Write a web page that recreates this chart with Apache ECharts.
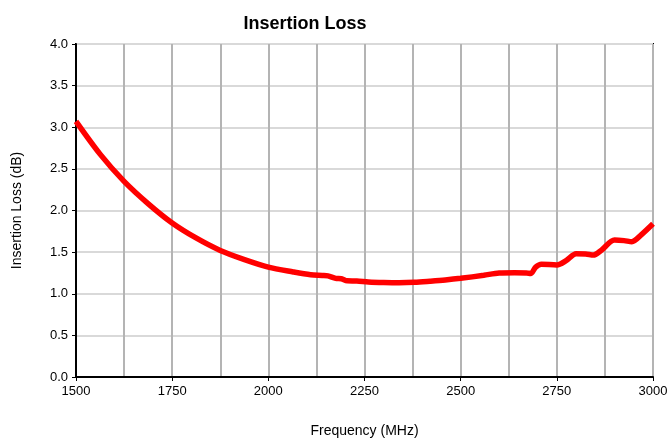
<!DOCTYPE html>
<html>
<head>
<meta charset="utf-8">
<script src="https://cdn.jsdelivr.net/npm/echarts@6/dist/echarts.min.js"></script>
<style>
html,body{margin:0;padding:0;background:#fff;}
#chart{width:671px;height:443px;}
</style>
</head>
<body>
<div id="chart"></div>
<script>
// frequency (MHz) and insertion loss (dB)
var freq = [1500,1562,1625,1688,1750,1812,1875,1938,2000,2065,2110,2140,2155,2175,2190,2205,2230,2260,2300,2340,2380,2420,2460,2500,2560,2600,2640,2672,2682,2695,2710,2750,2775,2800,2825,2845,2865,2900,2925,2945,2970,3000];
var loss = [3.07,2.68,2.35,2.08,1.85,1.67,1.52,1.41,1.32,1.262,1.228,1.22,1.215,1.185,1.18,1.155,1.153,1.142,1.135,1.132,1.137,1.15,1.165,1.185,1.222,1.25,1.253,1.25,1.242,1.32,1.355,1.345,1.4,1.48,1.478,1.465,1.52,1.645,1.638,1.625,1.71,1.84];
var xTicks = [1500,1750,2000,2250,2500,2750,3000];

var chart = echarts.init(document.getElementById('chart'));
var pts = [];
for (var i = 0; i < freq.length; i++) pts.push([freq[i], loss[i]]);

var font = '"Liberation Sans", Arial, sans-serif';
chart.setOption({
    animation: false,
    backgroundColor: '#fff',
    title: {
        text: 'Insertion Loss',
        left: 300, top: 10, textAlign: 'center',
        textStyle: {fontFamily: font, fontSize: 18, fontWeight: 'bold', color: '#000'}
    },
    grid: {left: 76, right: 18, top: 44, bottom: 66, show: true, borderColor: '#000', borderWidth: 2},
    xAxis: {
        type: 'value', min: 1500, max: 3000, interval: 250,
        name: 'Frequency (MHz)', nameLocation: 'middle', nameGap: 47,
        nameTextStyle: {fontFamily: font, fontSize: 14, color: '#000'},
        axisLine: {lineStyle: {color: '#000', width: 2}},
        axisTick: {show: true, length: 4, lineStyle: {color: '#000'}},
        axisLabel: {fontFamily: font, fontSize: 13, color: '#000', margin: 8,
            formatter: function (v) { return xTicks.indexOf(v) >= 0 ? String(v) : ''; }},
        splitLine: {show: true, lineStyle: {color: '#b4b4b4', width: 2}},
        minorTick: {show: false, splitNumber: 2},
        minorSplitLine: {show: true, lineStyle: {color: '#b4b4b4', width: 2}}
    },
    yAxis: {
        type: 'value', min: 0, max: 4, interval: 0.5,
        name: 'Insertion Loss (dB)', nameLocation: 'middle', nameGap: 52,
        nameTextStyle: {fontFamily: font, fontSize: 14, color: '#000'},
        axisLine: {show: true, lineStyle: {color: '#000', width: 2}},
        axisTick: {show: true, length: 4, lineStyle: {color: '#000'}},
        axisLabel: {fontFamily: font, fontSize: 13, color: '#000', margin: 8,
            formatter: function (v) { return v.toFixed(1); }},
        splitLine: {show: true, lineStyle: {color: '#d9d9d9', width: 2}}
    },
    series: [{
        type: 'line',
        data: pts,
        smooth: 0.3,
        showSymbol: false,
        lineStyle: {color: '#ff0000', width: 5.5}
    }]
});
</script>
</body>
</html>
